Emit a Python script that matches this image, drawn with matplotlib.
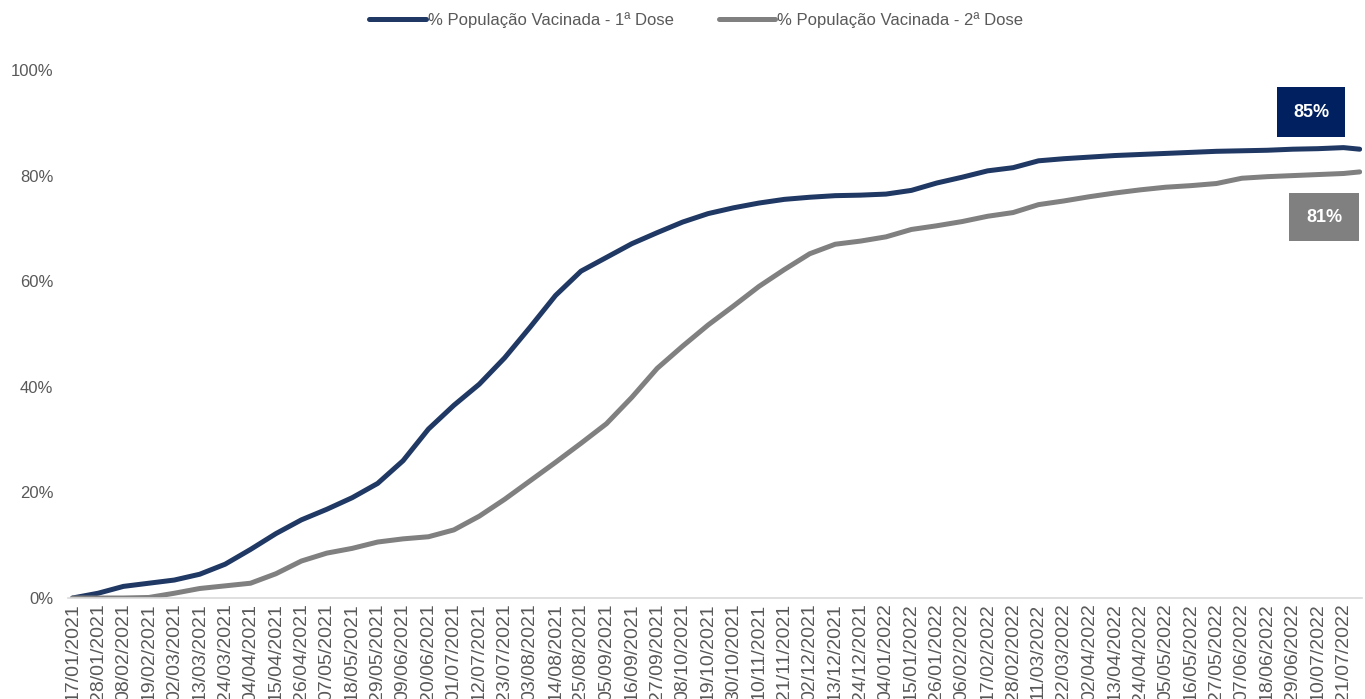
import matplotlib.pyplot as plt
import matplotlib.dates as mdates
from matplotlib.patches import Rectangle
import pandas as pd

plt.rcParams['font.family'] = ['Liberation Sans', 'DejaVu Sans']

# tick dates every 11 days (the chart's category labels)
tick_dates = pd.date_range('2021-01-17', '2022-07-21', freq='11D')
# sample dates: one per tick plus last day of the series
sample_dates = list(tick_dates) + [pd.Timestamp('2022-07-28')]

# % population vaccinated
dose1 = [0.0, 0.9, 2.2, 2.8, 3.4, 4.5, 6.4, 9.2, 12.2, 14.8,
         16.8, 19.0, 21.7, 26.0, 32.0, 36.5, 40.5, 45.5, 51.3, 57.3,
         61.9, 64.5, 67.1, 69.2, 71.2, 72.8, 73.9, 74.8, 75.5, 75.9,
         76.2, 76.3, 76.5, 77.2, 78.6, 79.7, 80.9, 81.5, 82.8, 83.2,
         83.5, 83.8, 84.0, 84.2, 84.4, 84.6, 84.7, 84.8, 85.0, 85.1,
         85.3, 85.0]
dose2 = [0.0, 0.0, 0.0, 0.1, 0.9, 1.8, 2.3, 2.8, 4.6, 7.0,
         8.5, 9.4, 10.6, 11.2, 11.6, 12.9, 15.5, 18.7, 22.2, 25.7,
         29.3, 33.0, 38.0, 43.5, 47.7, 51.7, 55.3, 59.0, 62.2, 65.2,
         67.0, 67.6, 68.4, 69.8, 70.5, 71.3, 72.3, 73.0, 74.5, 75.2,
         76.0, 76.7, 77.3, 77.8, 78.1, 78.5, 79.5, 79.8, 80.0, 80.2,
         80.4, 80.7]

navy = '#1F3864'
gray = '#808080'
text_gray = '#595959'

fig = plt.figure(figsize=(13.65, 6.99), dpi=100)
ax = fig.add_axes([68 / 1365, 101 / 699, 1294 / 1365, 528 / 699])

ax.plot(sample_dates, [v / 100 for v in dose1], color=navy, lw=3.6,
        solid_capstyle='round', label='% População Vacinada - 1ª Dose')
ax.plot(sample_dates, [v / 100 for v in dose2], color=gray, lw=3.6,
        solid_capstyle='round', label='% População Vacinada - 2ª Dose')

ax.set_ylim(0, 1)
ax.set_xlim(tick_dates[0] - pd.Timedelta(days=2), sample_dates[-1] + pd.Timedelta(days=1))
ax.set_yticks([0, 0.2, 0.4, 0.6, 0.8, 1.0])
ax.set_yticklabels(['0%', '20%', '40%', '60%', '80%', '100%'])
ax.set_xticks(tick_dates)
ax.xaxis.set_major_formatter(mdates.DateFormatter('%d/%m/%Y'))
ax.tick_params(axis='x', length=0, pad=4, labelsize=14, labelcolor=text_gray, labelrotation=90)
ax.tick_params(axis='y', length=0, pad=10.5, labelsize=12, labelcolor=text_gray)

for s in ['top', 'right', 'left']:
    ax.spines[s].set_visible(False)
ax.spines['bottom'].set_color('#D9D9D9')
ax.spines['bottom'].set_linewidth(1.2)

# value boxes at the end of each line
ax.add_patch(Rectangle((0.9343, 0.873), 0.0527, 0.0947, transform=ax.transAxes,
                       facecolor='#002060', edgecolor='none', clip_on=False))
ax.text(0.9343 + 0.0527 / 2, 0.873 + 0.0947 / 2, f'{round(dose1[-1])}%', transform=ax.transAxes,
        ha='center', va='center', color='white', fontsize=13, fontweight='bold')
ax.add_patch(Rectangle((0.9436, 0.676), 0.0541, 0.0909, transform=ax.transAxes,
                       facecolor=gray, edgecolor='none', clip_on=False))
ax.text(0.9436 + 0.0541 / 2, 0.676 + 0.0909 / 2, f'{round(dose2[-1])}%', transform=ax.transAxes,
        ha='center', va='center', color='white', fontsize=13, fontweight='bold')

fig.legend(loc='upper center', bbox_to_anchor=(0.51, 1.004), ncol=2, frameon=False,
           fontsize=12, handlelength=3.4, handletextpad=0.1, columnspacing=2.7,
           labelcolor=text_gray)

fig.savefig('out.png', dpi=100)
